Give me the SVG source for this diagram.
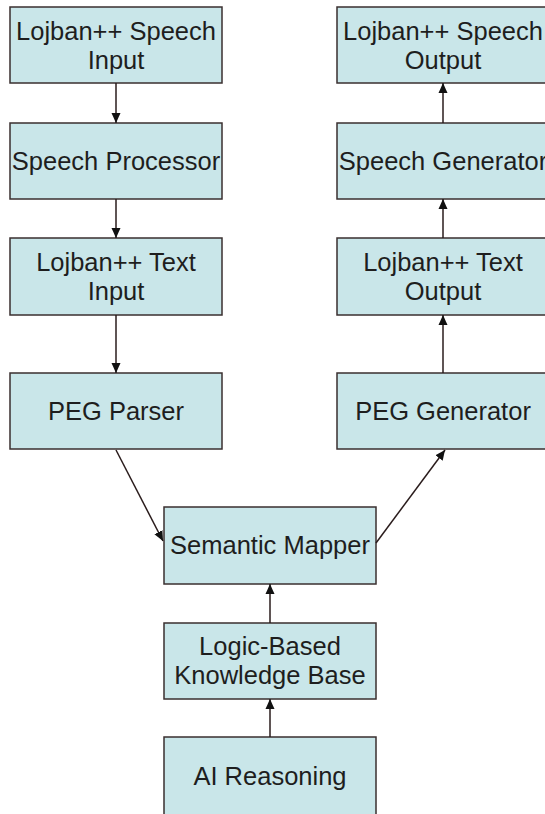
<svg xmlns="http://www.w3.org/2000/svg" width="545" height="814" viewBox="0 0 545 814">
  <style>
    .box { fill: #c9e6e9; stroke: #3a2f2f; stroke-width: 1.5; }
    .lbl { font-family: "Liberation Sans", Arial, sans-serif; font-size: 25.5px; fill: #1e1e1e; text-anchor: middle; }
    .edge { stroke: #2a1c1c; stroke-width: 1.5; fill: none; marker-end: url(#arrow); }
  </style>
  <defs>
    <marker id="arrow" viewBox="0 0 10 10" refX="10" refY="5" markerWidth="10" markerHeight="10" markerUnits="userSpaceOnUse" orient="auto">
      <path d="M0,0.5 L10,5 L0,9.5 Z" fill="#111"/>
    </marker>
  </defs>
  <rect width="545" height="814" fill="#fff"/>

  <!-- input pipeline (left column) -->
  <g id="speech-input">
    <rect class="box" x="10" y="7" width="212" height="76"/>
    <text class="lbl" x="116" y="40">Lojban++ Speech</text>
    <text class="lbl" x="116" y="69">Input</text>
  </g>
  <g id="speech-processor">
    <rect class="box" x="10" y="123" width="212" height="76"/>
    <text class="lbl" x="116" y="170">Speech Processor</text>
  </g>
  <g id="text-input">
    <rect class="box" x="10" y="238" width="212" height="77"/>
    <text class="lbl" x="116" y="271">Lojban++ Text</text>
    <text class="lbl" x="116" y="300">Input</text>
  </g>
  <g id="peg-parser">
    <rect class="box" x="10" y="373" width="212" height="76"/>
    <text class="lbl" x="116" y="420">PEG Parser</text>
  </g>

  <!-- output pipeline (right column) -->
  <g id="speech-output">
    <rect class="box" x="337" y="7" width="212" height="76"/>
    <text class="lbl" x="443" y="40">Lojban++ Speech</text>
    <text class="lbl" x="443" y="69">Output</text>
  </g>
  <g id="speech-generator">
    <rect class="box" x="337" y="123" width="212" height="76"/>
    <text class="lbl" x="443" y="170">Speech Generator</text>
  </g>
  <g id="text-output">
    <rect class="box" x="337" y="238" width="212" height="77"/>
    <text class="lbl" x="443" y="271">Lojban++ Text</text>
    <text class="lbl" x="443" y="300">Output</text>
  </g>
  <g id="peg-generator">
    <rect class="box" x="337" y="373" width="212" height="76"/>
    <text class="lbl" x="443" y="420">PEG Generator</text>
  </g>

  <!-- core (centre column) -->
  <g id="semantic-mapper">
    <rect class="box" x="164" y="507" width="212" height="77"/>
    <text class="lbl" x="270" y="554">Semantic Mapper</text>
  </g>
  <g id="knowledge-base">
    <rect class="box" x="164" y="623" width="212" height="76"/>
    <text class="lbl" x="270" y="655">Logic-Based</text>
    <text class="lbl" x="270" y="684">Knowledge Base</text>
  </g>
  <g id="ai-reasoning">
    <rect class="box" x="164" y="737" width="212" height="80"/>
    <text class="lbl" x="270" y="785">AI Reasoning</text>
  </g>

  <g id="connectors">
    <line class="edge" x1="116" y1="83" x2="116" y2="123"/>
    <line class="edge" x1="116" y1="199" x2="116" y2="238"/>
    <line class="edge" x1="116" y1="315" x2="116" y2="373"/>
    <line class="edge" x1="116" y1="450" x2="163" y2="541"/>
    <line class="edge" x1="376" y1="543" x2="445" y2="450"/>
    <line class="edge" x1="443" y1="373" x2="443" y2="315"/>
    <line class="edge" x1="443" y1="238" x2="443" y2="199"/>
    <line class="edge" x1="443" y1="123" x2="443" y2="83"/>
    <line class="edge" x1="270" y1="623" x2="270" y2="584"/>
    <line class="edge" x1="270" y1="737" x2="270" y2="699"/>
  </g>
</svg>
